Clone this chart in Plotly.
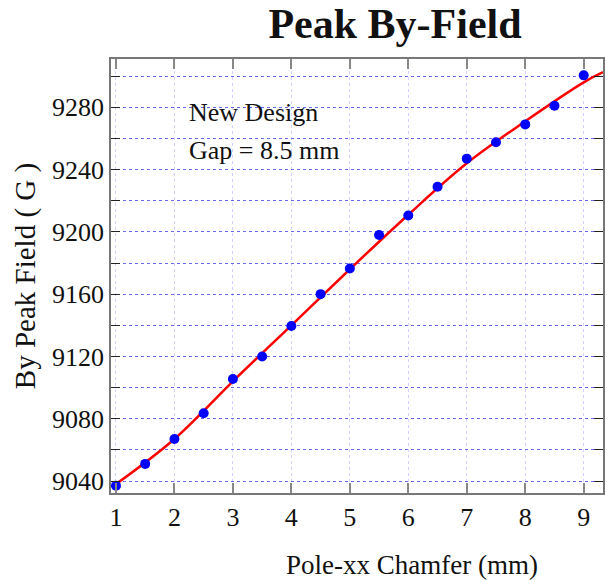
import plotly.graph_objects as go

# Measured peak By field vs. pole chamfer
chamfer_mm = [1, 1.5, 2, 2.5, 3, 3.5, 4, 4.5, 5, 5.5, 6, 6.5, 7, 7.5, 8, 8.5, 9]
peak_by_gauss = [9037, 9051, 9067, 9083.5, 9105.5, 9120, 9139.5, 9160, 9176.5,
                 9198, 9210.5, 9229, 9247, 9257.5, 9269, 9281, 9300.5]

# Smooth fitted trend through the measurements
fit_x = [1, 2, 3, 4, 5, 6, 7, 8, 9, 9.33]
fit_y = [9038, 9067, 9104, 9140, 9176, 9211, 9244, 9271, 9296, 9302.5]

note_lines = ["New Design", "Gap = 8.5 mm"]

serif = "Liberation Serif"
ink = "#111111"

fig = go.Figure()
fig.add_trace(go.Scatter(
    x=fit_x, y=fit_y, mode="lines", line=dict(color="#ff0000", width=2.5, shape="spline"),
    showlegend=False, hoverinfo="skip"))
fig.add_trace(go.Scatter(
    x=chamfer_mm, y=peak_by_gauss, mode="markers",
    marker=dict(color="#0000ff", size=10), showlegend=False))

# Two-line note in the upper-left of the plot
for text, ypos in zip(note_lines, [0.8756, 0.790]):
    fig.add_annotation(
        xref="paper", yref="paper", x=0.155, y=ypos, xanchor="left", yanchor="middle",
        text=text, showarrow=False, font=dict(family=serif, size=26, color=ink))

# x-axis title, set slightly right of the plot centre
fig.add_annotation(
    xref="paper", yref="paper", x=0.611, y=-0.166, xanchor="center", yanchor="middle",
    text="Pole-xx Chamfer (mm)", showarrow=False,
    font=dict(family=serif, size=27, color=ink))

fig.update_layout(
    width=605, height=580,
    margin=dict(l=111, r=0, t=59, b=87),
    plot_bgcolor="white", paper_bgcolor="white",
    title=dict(text="<b>Peak By-Field</b>", x=395 / 605, xref="container", xanchor="center",
               y=1 - 23 / 580, yref="container", yanchor="middle",
               font=dict(family=serif, size=42, color=ink)),
    font=dict(family=serif, color=ink),
)

fig.update_xaxes(
    range=[0.915, 9.33], tick0=1, dtick=1,
    ticks="inside", ticklen=10, tickcolor="#888888", tickwidth=1.5,
    showline=True, linecolor="#777777", linewidth=1.5, mirror="ticks",
    showgrid=True, gridcolor="rgba(140,140,255,0.4)", griddash="dot", gridwidth=1,
    zeroline=False,
    tickfont=dict(family=serif, size=26, color=ink),
)

fig.update_yaxes(
    range=[9032.3, 9311], tick0=9040, dtick=40,
    ticks="inside", ticklen=9, tickcolor="#222222", tickwidth=1.2,
    showline=True, linecolor="#777777", linewidth=1.5, mirror="ticks",
    showgrid=True, gridcolor="rgba(40,40,230,0.7)", griddash="dot", gridwidth=1,
    minor=dict(dtick=20, tick0=9040, ticks="inside", ticklen=9, tickcolor="#222222",
               showgrid=True, gridcolor="rgba(40,40,230,0.7)", griddash="dot", gridwidth=1),
    zeroline=False,
    tickfont=dict(family=serif, size=26, color=ink),
    title=dict(text="By Peak Field ( G )", font=dict(family=serif, size=29, color=ink),
               standoff=8),
)

fig.write_html("out.html")
